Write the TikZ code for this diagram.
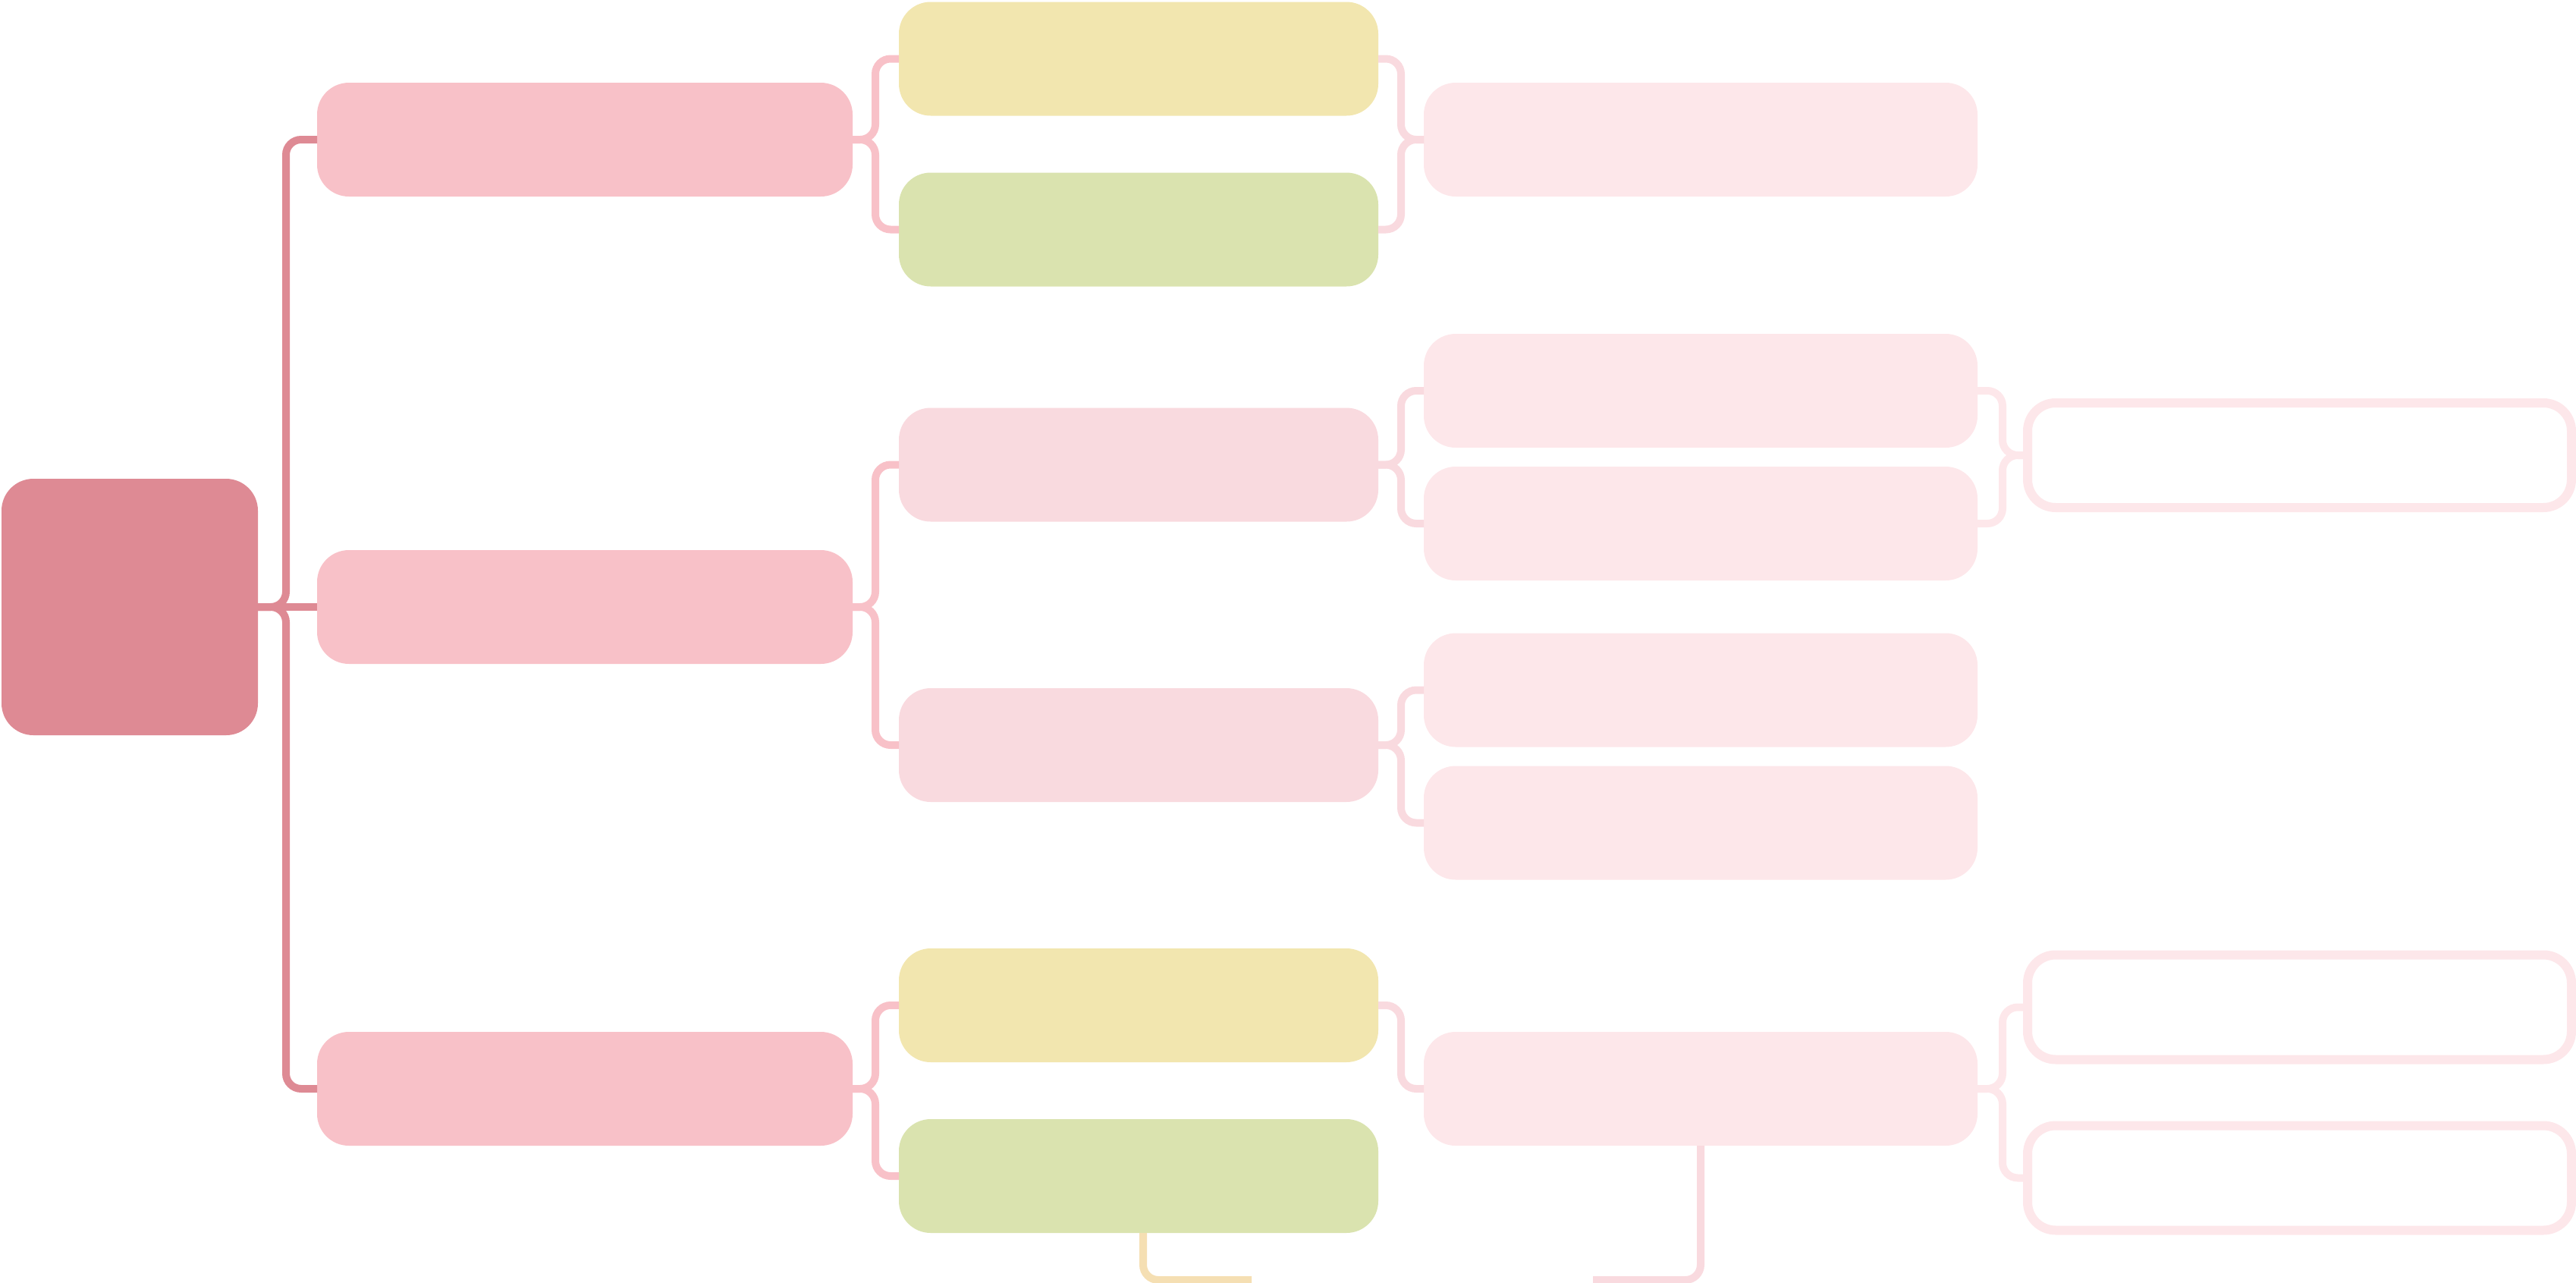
\documentclass[tikz,border=0pt]{standalone}
\definecolor{rootpink}{HTML}{DE8A94}
\definecolor{mainpink}{HTML}{F8C1C8}
\definecolor{subpink}{HTML}{F9DADF}
\definecolor{leafpink}{HTML}{FDE7EA}
\definecolor{softyellow}{HTML}{F2E6AF}
\definecolor{softgreen}{HTML}{DAE3AF}
\definecolor{softtan}{HTML}{F5DFB3}

\begin{document}
\begin{tikzpicture}[x=1cm,y=1cm]
  \tikzset{
    box/.style={rounded corners=0.42cm,inner sep=0pt,outer sep=0pt},
    rootbox/.style={box,fill=rootpink,minimum width=3.38cm,minimum height=3.38cm},
    mainbox/.style={box,fill=mainpink,minimum width=7.06cm,minimum height=1.50cm},
    subbox/.style={box,fill=subpink,minimum width=6.32cm,minimum height=1.50cm},
    yellowbox/.style={box,fill=softyellow,minimum width=6.32cm,minimum height=1.50cm},
    greenbox/.style={box,fill=softgreen,minimum width=6.32cm,minimum height=1.50cm},
    detailbox/.style={box,fill=leafpink,minimum width=7.30cm,minimum height=1.50cm},
    outlinebox/.style={rounded corners=0.37cm,inner sep=0pt,outer sep=0pt,
      draw=leafpink,line width=0.12cm,fill=white,
      minimum width=7.17cm,minimum height=1.38cm},
    link/.style={line width=0.10cm,rounded corners=0.2cm}
  }
  \useasboundingbox (0,0) rectangle (33.96,-16.91);

  % root and first level
  \node[rootbox] (root) at (1.71,-8.00) {};
  \node[mainbox] (topicA) at (7.71,-1.84) {};
  \node[mainbox] (topicB) at (7.71,-8.00) {};
  \node[mainbox] (topicC) at (7.71,-14.35) {};

  % second level
  \node[yellowbox] (ayellow) at (15.01,-0.775) {};
  \node[greenbox] (agreen) at (15.01,-3.025) {};
  \node[subbox] (bsubA) at (15.01,-6.125) {};
  \node[subbox] (bsubB) at (15.01,-9.82) {};
  \node[yellowbox] (cyellow) at (15.01,-13.25) {};
  \node[greenbox] (cgreen) at (15.01,-15.50) {};

  % third level
  \node[detailbox] (adetail) at (22.42,-1.84) {};
  \node[detailbox] (bdetailA) at (22.42,-5.15) {};
  \node[detailbox] (bdetailB) at (22.42,-6.90) {};
  \node[detailbox] (bdetailC) at (22.42,-9.095) {};
  \node[detailbox] (bdetailD) at (22.42,-10.845) {};
  \node[detailbox] (cdetail) at (22.42,-14.35) {};

  % outlined leaves
  \node[outlinebox] (bleaf) at (30.315,-6.00) {};
  \node[outlinebox] (cleafA) at (30.315,-13.275) {};
  \node[outlinebox] (cleafB) at (30.315,-15.525) {};

  \draw[link,draw=rootpink] (root.east) -- (topicB.west);
  \draw[link,draw=rootpink] (root.east) -- ++(0.37,0) |- (topicA.west);
  \draw[link,draw=rootpink] (root.east) -- ++(0.37,0) |- (topicC.west);

  \foreach \a/\b in {topicA/ayellow,topicA/agreen,topicB/bsubA,topicB/bsubB,
                     topicC/cyellow,topicC/cgreen}
    \draw[link,draw=mainpink] (\a.east) -- ++(0.30,0) |- (\b.west);

  \foreach \a/\b in {ayellow/adetail,agreen/adetail,bsubA/bdetailA,bsubA/bdetailB,
                     bsubB/bdetailC,bsubB/bdetailD,cyellow/cdetail}
    \draw[link,draw=subpink] (\a.east) -- ++(0.30,0) |- (\b.west);

  \foreach \a/\b in {bdetailA/bleaf,bdetailB/bleaf,cdetail/cleafA,cdetail/cleafB}
    \draw[link,draw=leafpink] (\a.east) -- ++(0.33,0) |- (\b.west);

  % loose ends at the bottom edge
  \coordinate (tanend) at (16.50,-16.87);
  \coordinate (pinkend) at (21.00,-16.87);
  \draw[link,draw=softtan] ([xshift=0.06cm]cgreen.south) |- (tanend);
  \draw[link,draw=subpink] (cdetail.south) |- (pinkend);
\end{tikzpicture}
\end{document}
